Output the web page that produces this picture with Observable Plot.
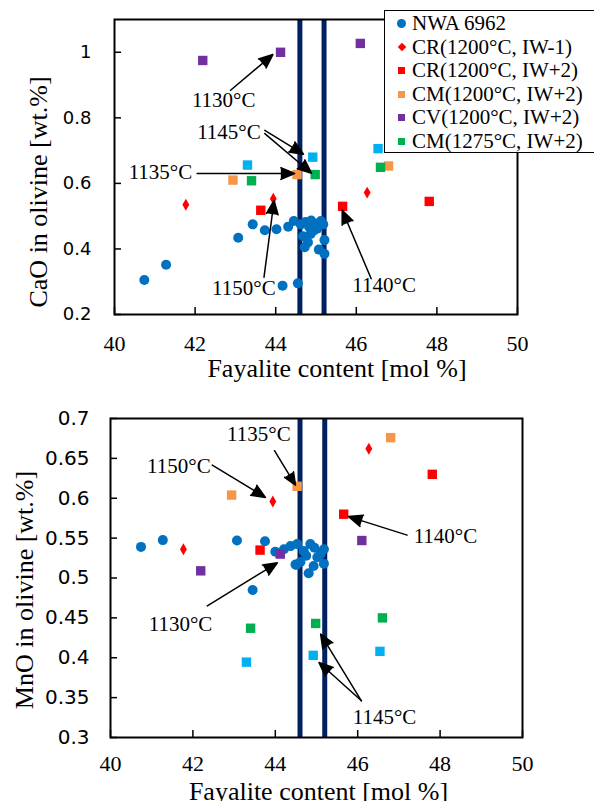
<!DOCTYPE html>
<html><head><meta charset="utf-8">
<script src="https://cdn.jsdelivr.net/npm/d3@7"></script>
<script src="https://cdn.jsdelivr.net/npm/@observablehq/plot@0.6"></script>
<style>
body{margin:0;background:#fff;}
#wrap{position:relative;width:594px;height:801px;overflow:hidden;background:#fff;}
#top,#bot{position:absolute;left:0;}
#top{top:0px}
#bot{top:380px}
#legend{position:absolute;left:384px;top:10px;width:240px;height:141px;border:1.5px solid #000;background:#fff;font-family:"Liberation Serif",serif;font-size:21px;color:#000;}
.row{position:absolute;left:0;height:24px;line-height:24px;white-space:nowrap;}
.row .lab{position:absolute;left:27px;top:0;}
.row .mk{position:absolute;}
</style></head><body>
<div id="wrap"><div id="top"></div><div id="bot"></div><div id="legend"></div></div>
<script>
// ---- data ----
const seriesNames = ["NWA 6962","CR(1200°C, IW-1)","CR(1200°C, IW+2)","CM(1200°C, IW+2)","CV(1200°C, IW+2)","CM(1275°C, IW+2)","unlabelled (IW+2)"];
const seriesColors = ["#0070C0","#FF0000","#FF0000","#F79646","#7030A0","#00B050","#00B0F0"];
const seriesSymbols = ["circle","diamond","square","square","square","square","square"];

// NWA 6962 olivine
const nwaFaTop = [40.74,41.28,43.07,43.43,43.73,44.02,44.17,44.55,44.31,44.45,44.62,44.74,44.88,44.99,45.12,45.18,44.68,44.87,44.95,44.80,44.72,45.07,45.21,45.21,44.83,45.03];
const nwaCaO   = [0.305,0.352,0.434,0.475,0.457,0.460,0.288,0.295,0.468,0.485,0.475,0.482,0.487,0.475,0.485,0.475,0.439,0.446,0.456,0.420,0.405,0.398,0.385,0.427,0.467,0.462];
const nwaFaBot = [40.74,41.27,43.07,43.75,43.45,44.00,44.21,44.37,44.53,44.51,44.49,44.81,44.85,45.18,45.18,45.02,44.69,44.61,44.93,45.10,44.75,44.95];
const nwaMnO   = [0.539,0.5475,0.547,0.546,0.485,0.533,0.536,0.540,0.5425,0.5165,0.517,0.506,0.5425,0.536,0.518,0.526,0.534,0.520,0.515,0.530,0.528,0.538];

// experiments: Fa, CaO, MnO (three runs each)
const crIWm1Fa = [41.77,43.94,46.27], crIWm1CaO = [0.535,0.553,0.572], crIWm1MnO = [0.536,0.596,0.662];
const crIWp2Fa = [43.63,45.66,47.81], crIWp2CaO = [0.518,0.530,0.545], crIWp2MnO = [0.535,0.580,0.630];
const cm1200Fa = [42.94,44.53,46.80], cm1200CaO = [0.610,0.627,0.653], cm1200MnO = [0.604,0.615,0.676];
const cv1200Fa = [42.19,44.12,46.10], cv1200CaO = [0.975,1.000,1.027], cv1200MnO = [0.509,0.530,0.547];
const cm1275Fa = [43.40,44.98,46.60], cm1275CaO = [0.608,0.627,0.649], cm1275MnO = [0.437,0.443,0.450];
const cyanFa   = [43.30,44.92,46.54], cyanCaO   = [0.656,0.680,0.706], cyanMnO   = [0.3945,0.403,0.408];

// fayalite range of NWA 6962 (vertical lines)
const fayRange = [44.6, 45.2];

// ticks
const xTicks = [40,42,44,46,48,50];
const yTicksTop = [0.2,0.4,0.6,0.8,1];
const yTicksBot = [0.3,0.35,0.4,0.45,0.5,0.55,0.6,0.65,0.7];

// annotations (data units)
const annTopText = [
  {t:"1130°C",x:42.71,y:0.853},{t:"1145°C",x:42.84,y:0.755},{t:"1135°C",x:41.14,y:0.635},
  {t:"1150°C",x:43.21,y:0.2815},{t:"1140°C",x:46.69,y:0.289}];
const annTopArrows = [
  {x1:42.88,y1:0.884,x2:43.93,y2:0.993},{x1:43.73,y1:0.762,x2:44.69,y2:0.689},
  {x1:43.73,y1:0.752,x2:44.89,y2:0.631},{x1:42.05,y1:0.630,x2:44.47,y2:0.630},
  {x1:43.71,y1:0.314,x2:43.96,y2:0.548},{x1:46.37,y1:0.309,x2:45.65,y2:0.518}];
const annBotText = [
  {t:"1135°C",x:43.60,y:0.680},{t:"1150°C",x:41.66,y:0.6407},{t:"1130°C",x:41.70,y:0.4422},
  {t:"1140°C",x:48.13,y:0.552},{t:"1145°C",x:46.65,y:0.325}];
const annBotArrows = [
  {x1:43.98,y1:0.6596,x2:44.49,y2:0.6165},{x1:42.47,y1:0.6416,x2:43.76,y2:0.601},
  {x1:42.35,y1:0.465,x2:44.05,y2:0.519},{x1:47.2,y1:0.5538,x2:45.78,y2:0.577},
  {x1:46.09,y1:0.346,x2:45.10,y2:0.4297},{x1:46.09,y1:0.346,x2:45.06,y2:0.394}];

// ---- build tables ----
function rows(fa, v, s){ return fa.map((f,i)=>({fa:f, v:v[i], s})); }
const topRows = [
  rows(nwaFaTop,nwaCaO,0), rows(crIWm1Fa,crIWm1CaO,1), rows(crIWp2Fa,crIWp2CaO,2),
  rows(cm1200Fa,cm1200CaO,3), rows(cv1200Fa,cv1200CaO,4), rows(cm1275Fa,cm1275CaO,5), rows(cyanFa,cyanCaO,6)];
const botRows = [
  rows(nwaFaBot,nwaMnO,0), rows(crIWm1Fa,crIWm1MnO,1), rows(crIWp2Fa,crIWp2MnO,2),
  rows(cm1200Fa,cm1200MnO,3), rows(cv1200Fa,cv1200MnO,4), rows(cm1275Fa,cm1275MnO,5), rows(cyanFa,cyanMnO,6)];

const SERIF = "Liberation Serif, Times New Roman, serif";
const SANS = "DejaVu Sans, sans-serif";
const rFor = s => s===0 ? 5 : (s===1 ? 3.6 : 5.3);

function dotMarks(groups){
  return groups.map((g)=>Plot.dot(g, {x:"fa", y:"v", symbol:()=>seriesSymbols[g[0].s], r:rFor(g[0].s), fill:seriesColors[g[0].s], stroke:"none"}));
}

function makePlot(cfg){
  const fw = cfg.width - cfg.ml - cfg.mr, fh = cfg.height - cfg.mt - cfg.mb;
  return Plot.plot({
    width: cfg.width, height: cfg.height,
    marginLeft: cfg.ml, marginRight: cfg.mr, marginTop: cfg.mt, marginBottom: cfg.mb,
    x:{domain:[40,50]}, y:{domain:cfg.ydom},
    symbol:{type:"identity"},
    style:{background:"transparent", overflow:"visible"},
    marks:[
      Plot.ruleX(fayRange, {stroke:"#002060", strokeWidth:5}),
      ...dotMarks(cfg.groups),
      Plot.ruleX(xTicks, {insetTop: fh-7, stroke:"black", strokeWidth:1.5}),
      Plot.ruleY(cfg.yticks, {insetRight: fw-7, stroke:"black", strokeWidth:1.5}),
      Plot.frame({stroke:"black", strokeWidth:2}),
      Plot.axisX({ticks:xTicks, tickSize:0, tickPadding:cfg.xpad, label:null, tickFormat:d=>String(d), fontSize:22, fontFamily:SERIF, fill:"black"}),
      Plot.axisY({ticks:cfg.yticks, tickSize:0, tickPadding:cfg.ypad, label:null, tickFormat:d=>String(d), fontSize:cfg.yfs, fontFamily:SANS, fill:"black"}),
      Plot.arrow(cfg.arrows, {x1:"x1", y1:"y1", x2:"x2", y2:"y2", stroke:"black", fill:"black", strokeWidth:1.5, headLength:15, headAngle:46, strokeLinejoin:"miter"}),
      Plot.text(cfg.texts, {x:"x", y:"y", text:"t", fontSize:21, fontFamily:SERIF, fill:"black"}),
      Plot.text([cfg.xlabel], {text:d=>d, frameAnchor:"bottom", textAnchor:"middle", lineAnchor:"middle", dx:cfg.xldx, dy:cfg.xldy, fontSize:26, fontFamily:SERIF, fill:"black"}),
      Plot.text([cfg.ylabel], {text:d=>d, frameAnchor:"left", textAnchor:"middle", lineAnchor:"middle", rotate:-90, dx:cfg.yldx, dy:cfg.yldy, fontSize:26, fontFamily:SERIF, fill:"black"})
    ]
  });
}

document.getElementById("top").appendChild(makePlot({
  width:594, height:380, ml:114, mr:77, mt:19, mb:66, ydom:[0.2,1.1], yticks:yTicksTop,
  groups: topRows, xpad:21, ypad:23, yfs:18, arrows:annTopArrows, texts:annTopText,
  xlabel:"Fayalite content [mol %]", xldx:21, xldy:54,
  ylabel:"CaO in olivine [wt.%]", yldx:-76, yldy:25
}));
document.getElementById("bot").appendChild(makePlot({
  width:594, height:421, ml:110, mr:72, mt:38, mb:64, ydom:[0.3,0.7], yticks:yTicksBot,
  groups: botRows, xpad:18, ypad:21, yfs:20, arrows:annBotArrows, texts:annBotText,
  xlabel:"Fayalite content [mol %]", xldx:2, xldy:54,
  ylabel:"MnO in olivine [wt.%]", yldx:-86, yldy:12
}));

// ---- legend ----
const leg = document.getElementById("legend");
seriesNames.slice(0,6).forEach((name,i)=>{
  const row = document.createElement("div");
  row.className = "row";
  row.style.top = (i*23.6) + "px";
  const mk = document.createElement("span");
  mk.className = "mk";
  const sym = seriesSymbols[i];
  if (sym==="circle"){ mk.style.cssText += "left:12px;top:7.5px;width:9px;height:9px;border-radius:50%;"; }
  else if (sym==="diamond"){ mk.style.cssText += "left:13.5px;top:9px;width:6px;height:6px;transform:rotate(45deg);"; }
  else { mk.style.cssText += "left:13px;top:9px;width:7px;height:7px;"; }
  mk.style.background = seriesColors[i];
  const lab = document.createElement("span");
  lab.className = "lab"; lab.textContent = name;
  row.appendChild(mk); row.appendChild(lab);
  leg.appendChild(row);
});
</script>
</body></html>
